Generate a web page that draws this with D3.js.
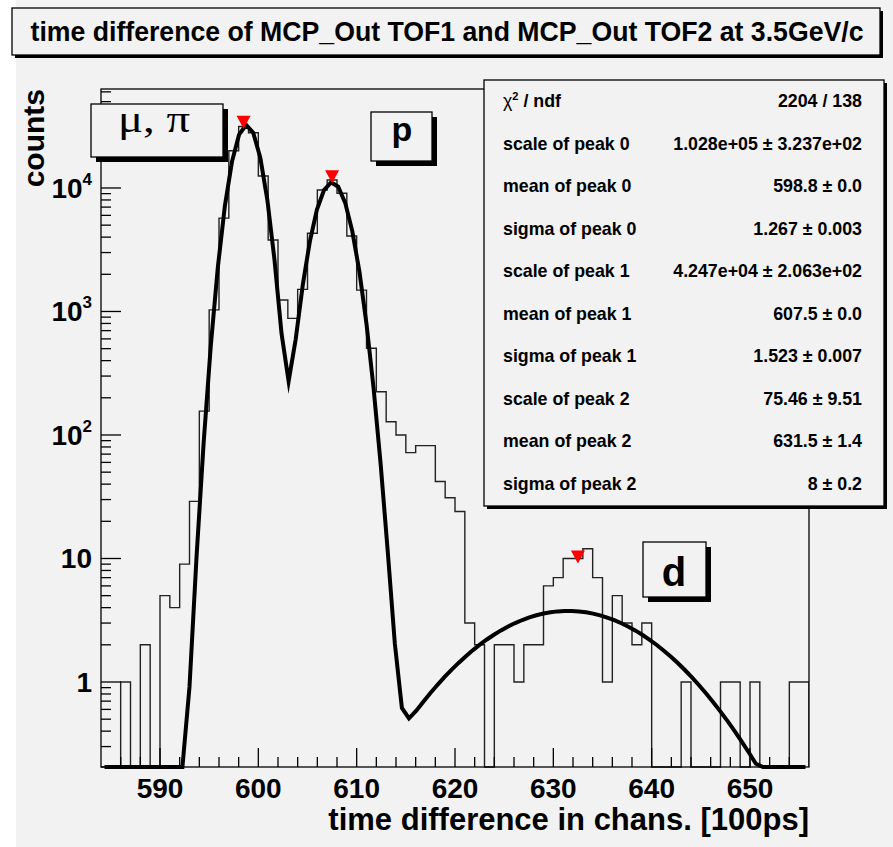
<!DOCTYPE html>
<html>
<head>
<meta charset="utf-8">
<script src="https://cdn.jsdelivr.net/npm/d3@7"></script>
<style>
  body { margin: 0; background: #fff; }
  svg { display: block; }
  text { font-family: "Liberation Sans", Arial, Helvetica, sans-serif; font-weight: bold; fill: #000; }
</style>
</head>
<body>
<div id="chart"></div>
<script>
// histogram: 72 bins of width 1 starting at 584
var binStart = 584;
var binCounts = [0, 0, 1, 0, 2, 0, 5, 4, 9, 29, 156, 1030, 5700, 20000, 31500, 28000, 12500, 3790,
  1240, 880, 1510, 4300, 9640, 11600, 9060, 4080, 1490, 504, 224, 128, 100, 72, 82, 82, 42, 31, 24,
  3, 2, 0, 2, 2, 1, 2, 2, 6, 7, 10, 10, 12, 7, 1, 5, 3, 2, 3, 0, 0, 0, 1, 0, 0, 0, 1, 1, 0, 1, 0, 0, 0, 1, 1];

// fit parameters (three gaussians)
var fitScale = [1.028e5, 4.247e4, 75.46];
var fitMean = [598.8, 607.5, 631.5];
var fitSigma = [1.267, 1.523, 8];

// peak markers
var peakX = [598.5, 607.5, 632.5];
var peakY = [34000, 12300, 10.3];

var xTicks = [590, 600, 610, 620, 630, 640, 650];
var yTicks = [1, 10, 100, 1000, 10000];
var yTickBase = ["1", "10", "10", "10", "10"];
var yTickExp = ["", "", "2", "3", "4"];

var statNames = ["ndf", "scale of peak 0", "mean of peak 0", "sigma of peak 0", "scale of peak 1",
  "mean of peak 1", "sigma of peak 1", "scale of peak 2", "mean of peak 2", "sigma of peak 2"];
var statValues = ["2204 / 138", "1.028e+05 \u00b1 3.237e+02", "598.8 \u00b1 0.0", "1.267 \u00b1 0.003",
  "4.247e+04 \u00b1 2.063e+02", "607.5 \u00b1 0.0", "1.523 \u00b1 0.007", "75.46 \u00b1 9.51",
  "631.5 \u00b1 1.4", "8 \u00b1 0.2"];

var titleText = "time difference of MCP_Out TOF1 and MCP_Out TOF2 at 3.5GeV/c";
var xTitle = "time difference in chans. [100ps]";
var yTitle = "counts";

var W = 893, H = 847;
var bg = "#f2f2f2";
var fl = 101, fr = 809, ft = 89, fb = 767;

var svg = d3.select("#chart").append("svg")
  .attr("width", W).attr("height", H);

svg.append("rect").attr("x", 16).attr("y", 0).attr("width", W - 16).attr("height", H).attr("fill", bg);

var x = d3.scaleLinear().domain([584, 656]).range([fl, fr]);
var y = d3.scaleLog().domain([0.205, 63300]).range([fb, ft]);

svg.append("clipPath").attr("id", "frame")
  .append("rect").attr("x", fl).attr("y", ft).attr("width", fr - fl).attr("height", fb - ft + 2);

var plot = svg.append("g").attr("clip-path", "url(#frame)");

// histogram staircase
var pts = [[x(binStart), fb]];
binCounts.forEach(function (c, i) {
  var yy = c > 0 ? y(c) : fb;
  pts.push([x(binStart + i), yy]);
  pts.push([x(binStart + i + 1), yy]);
});
pts.push([x(binStart + binCounts.length), fb]);

plot.append("path")
  .attr("d", d3.line()(pts))
  .attr("fill", "none")
  .attr("stroke", "#222")
  .attr("stroke-width", 1.4);

// fit curve from the fit parameters, evaluated at npx cell centres
function fitAt(t) {
  var s = 0;
  for (var j = 0; j < 3; j++) {
    var u = (t - fitMean[j]) / fitSigma[j];
    s += fitScale[j] / (Math.sqrt(2 * Math.PI) * fitSigma[j]) * Math.exp(-0.5 * u * u);
  }
  return s;
}
var npx = 100, dx = (656 - 584) / npx, fitPts = [];
for (var k = 0; k < npx; k++) {
  var t = 584 + (k + 0.5) * dx;
  var v = Math.max(fitAt(t), 0.205);
  fitPts.push([x(t), y(v)]);
}
plot.append("path")
  .attr("d", d3.line()(fitPts))
  .attr("fill", "none")
  .attr("stroke", "#000")
  .attr("stroke-width", 4)
  .attr("stroke-linejoin", "miter")
  .attr("stroke-miterlimit", 10);

// red peak markers
plot.selectAll(".peak")
  .data(peakX)
  .enter().append("path")
  .attr("class", "peak")
  .attr("transform", function (d, i) { return "translate(" + x(d) + "," + y(peakY[i]) + ")"; })
  .attr("d", "M-7,-6.5L7,-6.5L0,6.5Z")
  .attr("fill", "#ff0000");

// axes ticks
var axes = svg.append("g").attr("stroke", "#000").attr("stroke-width", 1.3);
xTicks.forEach(function (d) {
  axes.append("line").attr("x1", x(d)).attr("x2", x(d)).attr("y1", fb).attr("y2", fb - 19);
});
for (var m = 586; m < 656; m += 2) {
  if (m % 10 === 0) continue;
  axes.append("line").attr("x1", x(m)).attr("x2", x(m)).attr("y1", fb).attr("y2", fb - 10);
}
yTicks.forEach(function (d) {
  axes.append("line").attr("x1", fl).attr("x2", fl + 20).attr("y1", y(d)).attr("y2", y(d));
});
for (var e = -1; e <= 4; e++) {
  for (var n = 2; n <= 9; n++) {
    var val = n * Math.pow(10, e);
    if (val < 0.205 || val > 63300) continue;
    axes.append("line").attr("x1", fl).attr("x2", fl + 10).attr("y1", y(val)).attr("y2", y(val));
  }
}

// frame
svg.append("rect")
  .attr("x", fl).attr("y", ft).attr("width", fr - fl).attr("height", fb - ft)
  .attr("fill", "none").attr("stroke", "#000").attr("stroke-width", 1.3);

// tick labels
svg.selectAll(".xl").data(xTicks).enter().append("text")
  .attr("x", function (d) { return x(d); })
  .attr("y", 798)
  .attr("text-anchor", "middle")
  .style("font-size", "28px")
  .text(function (d) { return d; });

yTicks.forEach(function (d, i) {
  var tx = svg.append("text")
    .attr("x", 92).attr("y", y(d) + 10)
    .attr("text-anchor", "end")
    .style("font-size", "28px");
  tx.append("tspan").text(yTickBase[i]);
  if (yTickExp[i]) {
    tx.append("tspan").attr("dy", -13).style("font-size", "17px").text(yTickExp[i]);
  }
});

// axis titles
svg.append("text")
  .attr("x", fr).attr("y", 830)
  .attr("text-anchor", "end")
  .style("font-size", "31px")
  .text(xTitle);

svg.append("text")
  .attr("transform", "translate(43.5," + ft + ") rotate(-90)")
  .attr("text-anchor", "end")
  .style("font-size", "30px")
  .text(yTitle);

// boxes with shadow
function pave(bx, by, bw, bh, sh) {
  svg.append("rect").attr("x", bx + sh).attr("y", by + sh).attr("width", bw).attr("height", bh).attr("fill", "#000");
  svg.append("rect").attr("x", bx).attr("y", by).attr("width", bw).attr("height", bh)
    .attr("fill", bg).attr("stroke", "#000").attr("stroke-width", 1.3);
}

pave(91, 104, 132, 53, 5);
svg.append("text")
  .attr("x", 154).attr("y", 132)
  .attr("text-anchor", "middle")
  .attr("textLength", 72)
  .attr("lengthAdjust", "spacingAndGlyphs")
  .style("font-family", "'Liberation Serif', 'DejaVu Serif', serif")
  .style("font-weight", "normal")
  .style("font-size", "38px")
  .text("\u03bc, \u03c0");

pave(371, 112, 61, 49, 5);
svg.append("text")
  .attr("x", 402).attr("y", 141)
  .attr("text-anchor", "middle")
  .style("font-size", "34px")
  .text("p");

pave(643, 542, 63, 55, 5);
svg.append("text")
  .attr("x", 674).attr("y", 586)
  .attr("text-anchor", "middle")
  .style("font-size", "40px")
  .text("d");

// stats box
pave(484, 80, 400, 426, 3);
var rowTop = 101, rowStep = 42.55;
statNames.forEach(function (d, i) {
  var t = svg.append("text")
    .attr("x", 503).attr("y", rowTop + i * rowStep + 6)
    .style("font-size", "17.8px");
  if (i === 0) {
    t.append("tspan").style("font-weight", "normal").text("\u03c7");
    t.append("tspan").attr("dy", -7).style("font-size", "11px").text("2");
    t.append("tspan").attr("dy", 7).text(" / " + d);
  } else {
    t.text(d);
  }
});
statValues.forEach(function (d, i) {
  svg.append("text")
    .attr("x", 862).attr("y", rowTop + i * rowStep + 6)
    .attr("text-anchor", "end")
    .style("font-size", "17.8px")
    .text(d);
});

// title box
pave(12, 8, 868, 47, 3);
svg.append("text")
  .attr("x", 447).attr("y", 41)
  .attr("text-anchor", "middle")
  .attr("textLength", 833)
  .attr("lengthAdjust", "spacingAndGlyphs")
  .style("font-size", "27px")
  .text(titleText);
</script>
</body>
</html>
